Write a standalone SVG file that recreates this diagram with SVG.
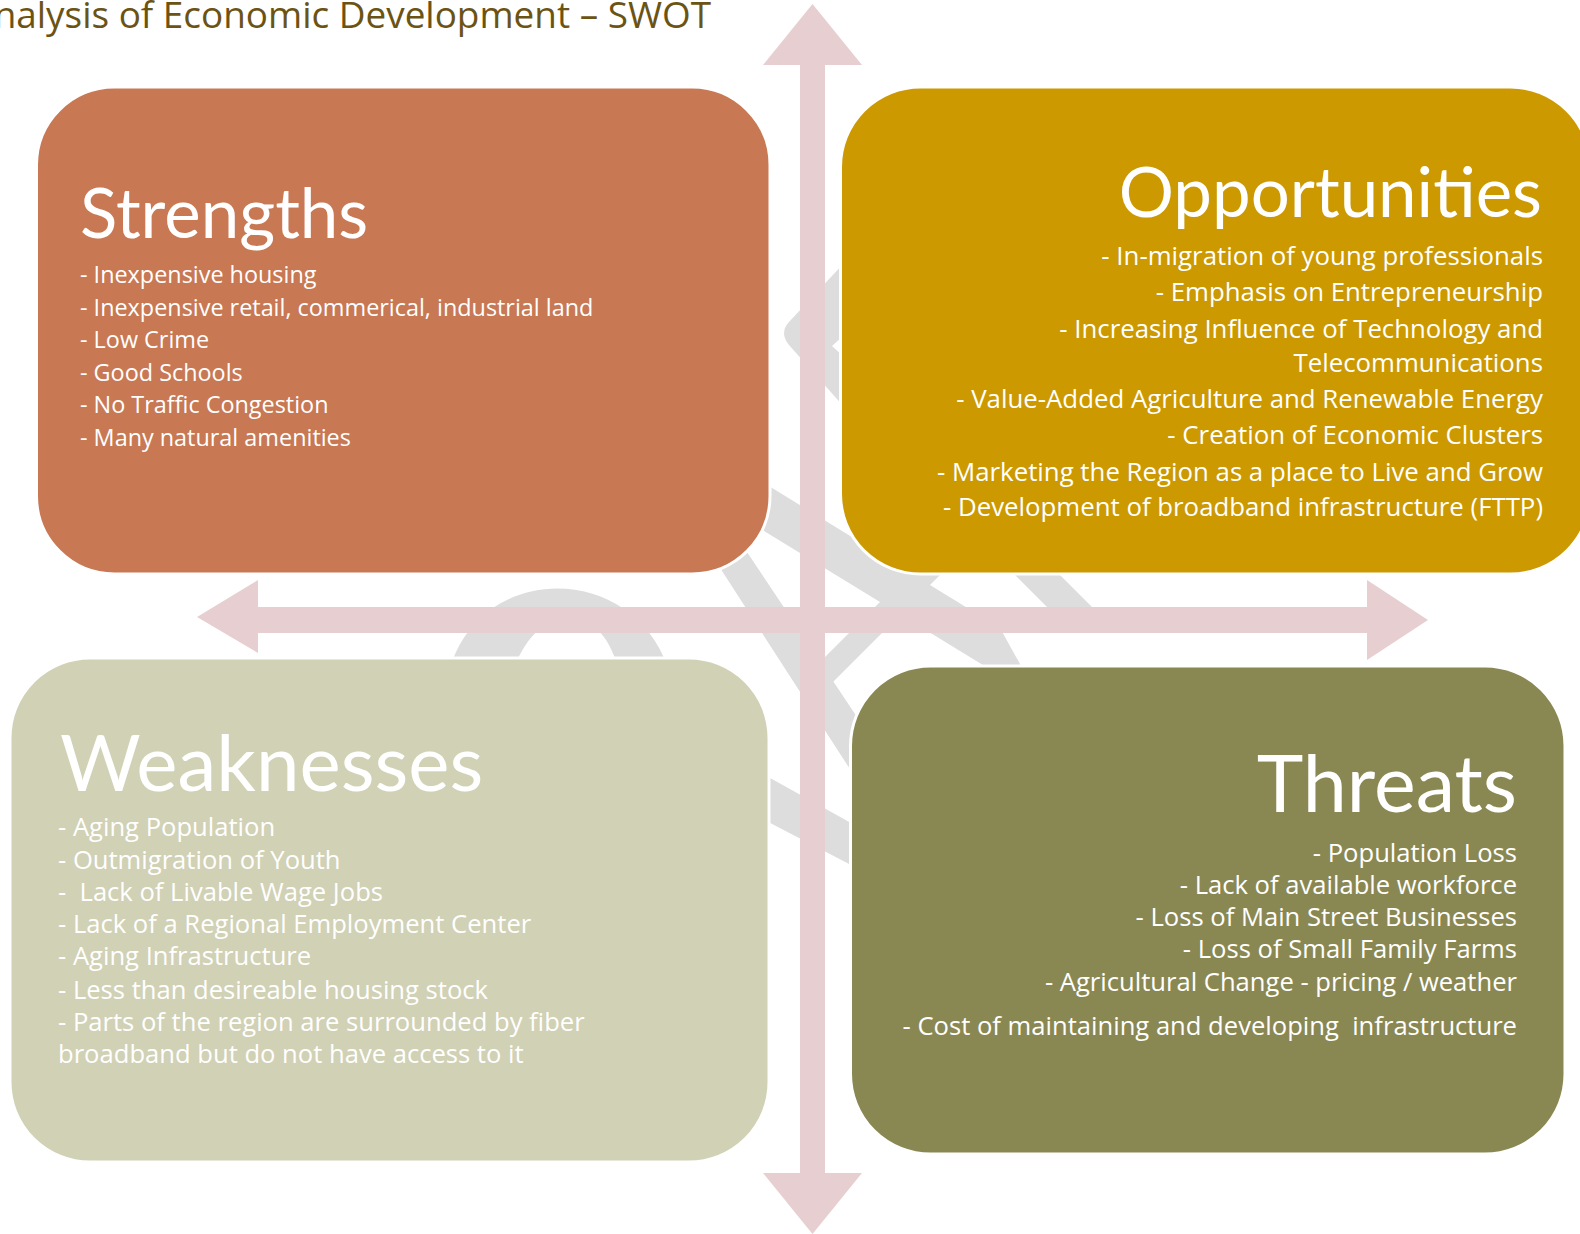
<svg xmlns="http://www.w3.org/2000/svg" width="1580" height="1234" viewBox="0 0 1580 1234">
  <style>
    .mark { fill: #dddddd; }
    .axis { fill: #e7cfd1; }
    .box { stroke: #ffffff; stroke-width: 3; }
    .head { font-family: Lato, "Liberation Sans", sans-serif; fill: #ffffff; }
    .item { font-family: "Open Sans", "Liberation Sans", sans-serif; fill: #ffffff; }
    .title { font-family: "Open Sans", "Liberation Sans", sans-serif; fill: #6b5314; font-size: 36.9px; }
  </style>

  <rect width="1580" height="1234" fill="#ffffff"/>

  <!-- faint emblem behind the quadrants -->
  <g id="emblem">
    <path class="mark" d="M 845 262 L 789 322 Q 779 333 789 345 L 845 408 Z"/>
    <polygon points="843,336 832,346 843,356" fill="#ffffff"/>
    <path class="mark" d="M 450 668 C 482 562 632 562 668 668 L 618 668 C 600 600 540 600 514 668 Z"/>
    <polygon class="mark" points="720,456 1000,628 1040,700 720,504"/>
    <polygon class="mark" points="1000,560 1045,560 1115,630 1070,630"/>
    <polygon class="mark" points="702,540 739,540 899,780 857,780"/>
    <polygon class="mark" points="922,560 955,560 812,703 812,670"/>
    <polygon class="mark" points="745,764 905,853 905,893 745,810"/>
  </g>

  <!-- two-way axes -->
  <g id="connectors">
    <rect class="axis" x="800" y="64" width="25" height="1110"/>
    <polygon class="axis" points="763,65 812.5,4 862,65"/>
    <polygon class="axis" points="763,1173 812.5,1234 862,1173"/>
    <rect class="axis" x="257" y="607" width="1111" height="26"/>
    <polygon class="axis" points="258,580 197,617 258,653"/>
    <polygon class="axis" points="1367,580 1428,620 1367,660"/>
  </g>

  <text class="title" x="711" y="28" text-anchor="end">Analysis of Economic Development – SWOT</text>

  <g id="strengths">
    <rect class="box" x="36.5" y="87" width="733.5" height="487" rx="78" fill="#c87853"/>
    <text class="head" x="80" y="238" font-size="69">Strengths</text>
    <g class="item" font-size="23.4">
      <text x="80" y="283">- Inexpensive housing</text>
      <text x="80" y="316">- Inexpensive retail, commerical, industrial land</text>
      <text x="80" y="348">- Low Crime</text>
      <text x="80" y="381">- Good Schools</text>
      <text x="80" y="413">- No Traffic Congestion</text>
      <text x="80" y="446">- Many natural amenities</text>
    </g>
  </g>

  <g id="opportunities">
    <rect class="box" x="840.5" y="87" width="750" height="487" rx="80" fill="#cc9900"/>
    <text class="head" x="1542" y="217" font-size="69" text-anchor="end">Opportunities</text>
    <g class="item" font-size="25.8" text-anchor="end">
      <text x="1543" y="265">- In-migration of young professionals</text>
      <text x="1543" y="301">- Emphasis on Entrepreneurship</text>
      <text x="1543" y="338">- Increasing Influence of Technology and</text>
      <text x="1543" y="372">Telecommunications</text>
      <text x="1543" y="408">- Value-Added Agriculture and Renewable Energy</text>
      <text x="1543" y="444">- Creation of Economic Clusters</text>
      <text x="1543" y="481">- Marketing the Region as a place to Live and Grow</text>
      <text x="1543" y="516">- Development of broadband infrastructure (FTTP)</text>
    </g>
  </g>

  <g id="weaknesses">
    <rect class="box" x="10" y="658" width="759" height="504" rx="80" fill="#d1d1b5"/>
    <text class="head" x="60" y="791" font-size="78">Weaknesses</text>
    <g class="item" font-size="25.6">
      <text x="58" y="836">- Aging Population</text>
      <text x="58" y="869">- Outmigration of Youth</text>
      <text x="58" y="901" xml:space="preserve">-  Lack of Livable Wage Jobs</text>
      <text x="58" y="933">- Lack of a Regional Employment Center</text>
      <text x="58" y="965">- Aging Infrastructure</text>
      <text x="58" y="999">- Less than desireable housing stock</text>
      <text x="58" y="1031">- Parts of the region are surrounded by fiber</text>
      <text x="58" y="1063">broadband but do not have access to it</text>
    </g>
  </g>

  <g id="threats">
    <rect class="box" x="850.5" y="666" width="714.5" height="488" rx="80" fill="#8a8852"/>
    <text class="head" x="1517" y="812" font-size="79" text-anchor="end">Threats</text>
    <g class="item" font-size="25.6" text-anchor="end">
      <text x="1517" y="862">- Population Loss</text>
      <text x="1517" y="894">- Lack of available workforce</text>
      <text x="1517" y="926">- Loss of Main Street Businesses</text>
      <text x="1517" y="958">- Loss of Small Family Farms</text>
      <text x="1517" y="991">- Agricultural Change - pricing / weather</text>
      <text x="1517" y="1035" xml:space="preserve">- Cost of maintaining and developing  infrastructure</text>
    </g>
  </g>
</svg>
